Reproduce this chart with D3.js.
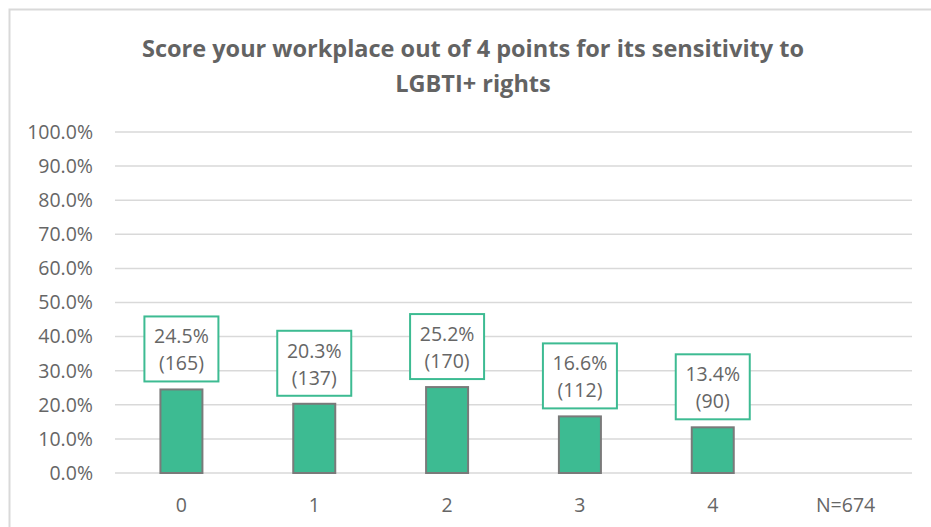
<!DOCTYPE html>
<html>
<head>
<meta charset="utf-8">
<script src="https://cdn.jsdelivr.net/npm/d3@7"></script>
<style>
  body { margin: 0; background: #fff; }
  text { font-family: "Open Sans", "Noto Sans", sans-serif; }
</style>
</head>
<body>
<div id="chart"></div>
<script>
const categories = ['0', '1', '2', '3', '4', 'N=674']
const percents = [24.5, 20.3, 25.2, 16.6, 13.4, null]
const counts = [165, 137, 170, 112, 90, null]
const yTicks = [0, 10, 20, 30, 40, 50, 60, 70, 80, 90, 100]

const width = 931, height = 527
const margin = {top: 132, right: 19, bottom: 54, left: 115}

const svg = d3.select('#chart').append('svg')
  .attr('width', width)
  .attr('height', height)

// chart frame
svg.append('path')
  .attr('d', `M9.5,${height} V9.5 H${width}`)
  .attr('fill', 'none')
  .attr('stroke', '#d9d9d9')
  .attr('stroke-width', 2)

svg.append('text')
  .attr('x', 473).attr('y', 57)
  .attr('text-anchor', 'middle')
  .attr('font-size', 23.5).attr('font-weight', 'bold')
  .attr('fill', '#636363')
  .selectAll('tspan')
  .data(['Score your workplace out of 4 points for its sensitivity to', 'LGBTI+ rights'])
  .join('tspan')
  .attr('x', 473)
  .attr('dy', (d, i) => i ? 35 : 0)
  .text(d => d)

const x = d3.scaleBand()
  .domain(categories)
  .range([margin.left, width - margin.right])

const y = d3.scaleLinear()
  .domain([0, 100])
  .range([height - margin.bottom, margin.top])

svg.append('g')
  .selectAll('line')
  .data(yTicks)
  .join('line')
  .attr('x1', margin.left).attr('x2', width - margin.right)
  .attr('y1', d => y(d)).attr('y2', d => y(d))
  .attr('stroke', '#d9d9d9')
  .attr('stroke-width', 1.5)

svg.append('g')
  .selectAll('text')
  .data(yTicks)
  .join('text')
  .attr('x', 93).attr('y', d => y(d))
  .attr('dy', '0.35em')
  .attr('text-anchor', 'end')
  .attr('font-size', 19.5)
  .attr('fill', '#666')
  .text(d => d.toFixed(1) + '%')

svg.append('g')
  .selectAll('text')
  .data(categories)
  .join('text')
  .attr('x', d => x(d) + x.bandwidth() / 2)
  .attr('y', 505)
  .attr('dy', '0.35em')
  .attr('text-anchor', 'middle')
  .attr('font-size', 19.5)
  .attr('fill', '#666')
  .text(d => d)

const data = categories.map((c, i) => ({c, p: percents[i], n: counts[i]})).filter(d => d.p != null)
const barW = 42

svg.append('g')
  .selectAll('rect')
  .data(data)
  .join('rect')
  .attr('x', d => x(d.c) + x.bandwidth() / 2 - barW / 2)
  .attr('y', d => y(d.p))
  .attr('width', barW)
  .attr('height', d => y(0) - y(d.p))
  .attr('fill', '#3dbb92')
  .attr('stroke', '#7a7a7a')
  .attr('stroke-width', 2)

const boxW = 74, boxH = 65
const lab = svg.append('g')
  .selectAll('g')
  .data(data)
  .join('g')
  .attr('transform', d => `translate(${x(d.c) + x.bandwidth() / 2},${y(d.p) - 8 - boxH})`)

lab.append('rect')
  .attr('x', -boxW / 2).attr('y', 0)
  .attr('width', boxW).attr('height', boxH)
  .attr('fill', '#fff')
  .attr('stroke', '#3dbb92')
  .attr('stroke-width', 2)

lab.append('text')
  .attr('y', 20).attr('dy', '0.35em')
  .attr('text-anchor', 'middle')
  .attr('font-size', 19.5)
  .attr('fill', '#666')
  .text(d => d.p.toFixed(1) + '%')

lab.append('text')
  .attr('y', 47).attr('dy', '0.35em')
  .attr('text-anchor', 'middle')
  .attr('font-size', 19.5)
  .attr('fill', '#666')
  .text(d => `(${d.n})`)
</script>
</body>
</html>
